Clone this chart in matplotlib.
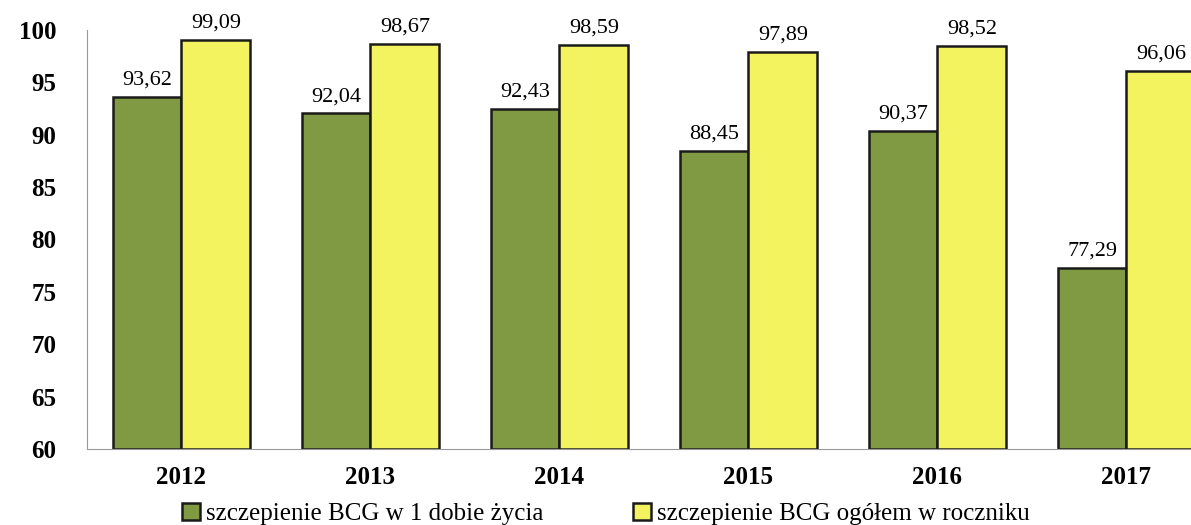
import matplotlib.pyplot as plt
import numpy as np

# Dane
lata = ['2012', '2013', '2014', '2015', '2016', '2017']
doba1 = [93.62, 92.04, 92.43, 88.45, 90.37, 77.29]
ogolem = [99.09, 98.67, 98.59, 97.89, 98.52, 96.06]
etykiety = ['szczepienie BCG w 1 dobie życia', 'szczepienie BCG ogółem w roczniku']

plt.rcParams['font.family'] = ['Liberation Serif', 'DejaVu Serif']

fig = plt.figure(figsize=(11.91, 5.25), dpi=100)
# os wychodzi poza prawa krawedz, jak w oryginale
ax = fig.add_axes([87/1191, 1 - 449/525, 1134/1191, 419/525])

x = np.arange(len(lata))
w = 0.365
b1 = ax.bar(x - w/2, np.array(doba1) - 60, w, bottom=60, color='#7f9a42',
            edgecolor='#1a1a1a', linewidth=1.8, label=etykiety[0])
b2 = ax.bar(x + w/2, np.array(ogolem) - 60, w, bottom=60, color='#f3f35f',
            edgecolor='#1a1a1a', linewidth=1.8, label=etykiety[1])

for xi, v in zip(x - w/2, doba1):
    ax.text(xi, v + 0.7, f'{v:.2f}'.replace('.', ','), ha='center', va='bottom', fontsize=16)
for xi, v in zip(x + w/2, ogolem):
    ax.text(xi, v + 0.7, f'{v:.2f}'.replace('.', ','), ha='center', va='bottom', fontsize=16)

ax.set_xlim(-0.5, 5.5)
ax.set_ylim(60, 100)
ax.set_yticks(np.arange(60, 101, 5))
ax.set_xticks(x)
ax.set_xticklabels(lata)
ax.tick_params(length=0)
ax.tick_params(axis='y', pad=22, labelsize=18)
ax.tick_params(axis='x', pad=12, labelsize=18)
for lab in ax.get_xticklabels() + ax.get_yticklabels():
    lab.set_fontweight('bold')
for s in ['top', 'right']:
    ax.spines[s].set_visible(False)
ax.spines['left'].set_color('#999999')
ax.spines['bottom'].set_color('#999999')

fig.legend(handles=[b1, b2], loc='center left', bbox_to_anchor=(172/1191, 1 - 514/525),
           ncol=2, frameon=False, fontsize=18, handlelength=0.7, handleheight=0.7,
           handletextpad=0.25, columnspacing=3.6, borderaxespad=0)

fig.savefig('out.png', dpi=100)
